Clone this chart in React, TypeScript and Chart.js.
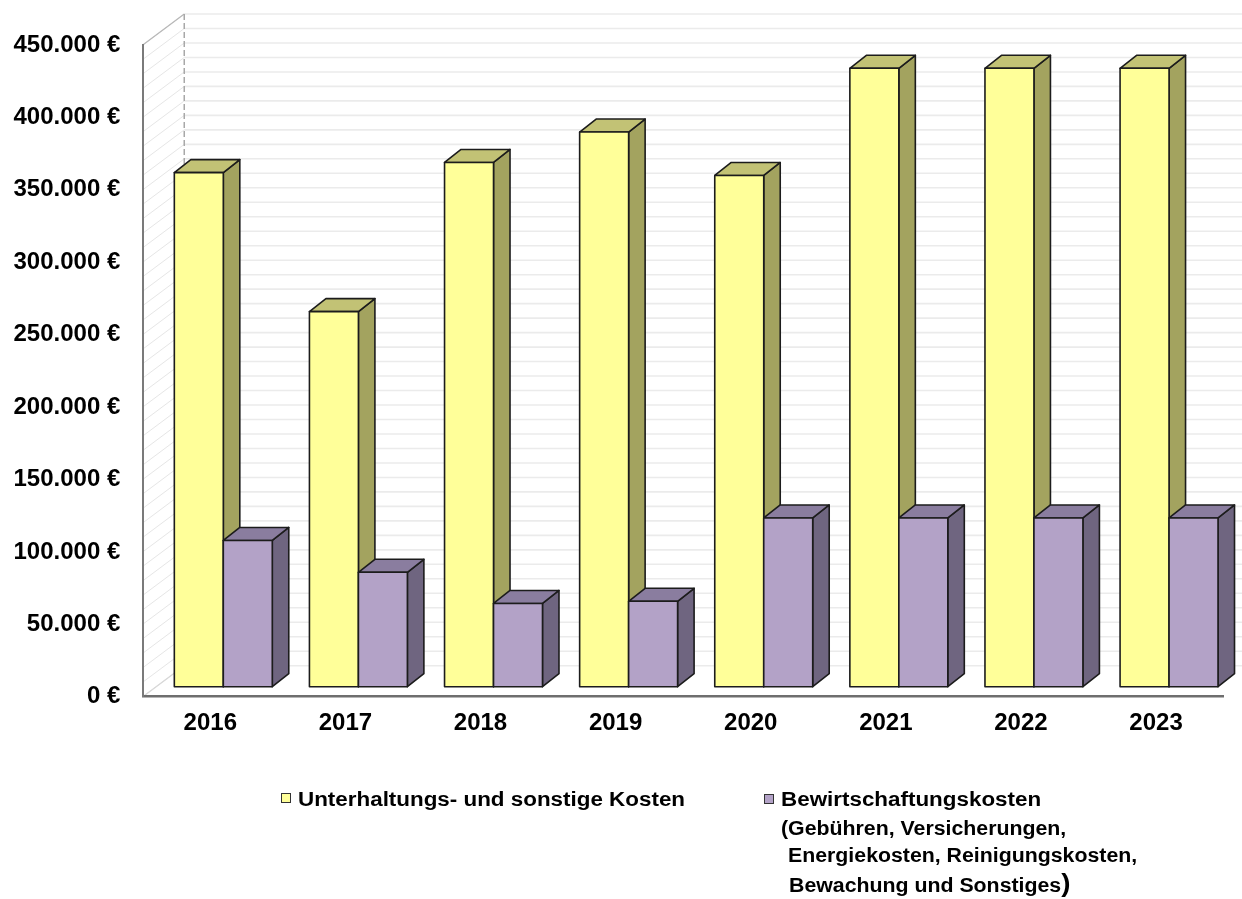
import React, { useEffect, useRef } from 'react';
import { Chart, registerables } from 'chart.js';

Chart.register(...registerables);

// ---- data ----
const years = ['2016', '2017', '2018', '2019', '2020', '2021', '2022', '2023'];
const unterhaltungsKosten = [355000, 259000, 362000, 383000, 353000, 427000, 427000, 427000];
const bewirtschaftungsKosten = [101000, 79000, 57500, 59000, 116500, 116500, 116500, 116500];
const seriesLabels = ['Unterhaltungs- und sonstige Kosten', 'Bewirtschaftungskosten'];
const bewirtschaftungDetail = ['(Gebühren, Versicherungen,', 'Energiekosten, Reinigungskosten,', 'Bewachung und Sonstiges'];
const yMax = 450000;
const yStep = 50000;
const gridStep = 10000;

// ---- style ----
const W = 1242;
const H = 899;
const WALL_DX = 41.5;
const WALL_DY = -31;
const BAR_DX = 13;
const BAR_DY = -10;
const DEPTH_DX = 16.5;
const DEPTH_DY = -13;
const FONT = "'Liberation Sans', Arial, sans-serif";

const faces = [
  { front: '#FFFF99', top: '#C2C275', side: '#A3A35F' },
  { front: '#B3A2C7', top: '#8A7D9F', side: '#6F6580' },
];

function fmtEuro(v: number): string {
  return String(Math.round(v)).replace(/\B(?=(\d{3})+(?!\d))/g, '.') + ' €';
}

const wallsPlugin = {
  id: 'walls3d',
  beforeDraw(chart: any) {
    const { ctx, chartArea: a, scales } = chart;
    const ys = scales.y;
    ctx.save();
    ctx.fillStyle = '#ffffff';
    ctx.fillRect(0, 0, chart.width, chart.height);
    for (let v = 0; v <= yMax; v += gridStep) {
      const py = ys.getPixelForValue(v);
      // back wall line
      ctx.strokeStyle = '#ebebeb';
      ctx.lineWidth = 1.6;
      ctx.beginPath();
      ctx.moveTo(a.left + WALL_DX, py + WALL_DY);
      ctx.lineTo(chart.width, py + WALL_DY);
      ctx.stroke();
      // side wall line
      ctx.strokeStyle = '#e6e6e6';
      ctx.lineWidth = 1;
      ctx.beginPath();
      ctx.moveTo(a.left, py);
      ctx.lineTo(a.left + WALL_DX, py + WALL_DY);
      ctx.stroke();
    }
    const pTop = ys.getPixelForValue(yMax);
    const pBot = ys.getPixelForValue(0);
    // top edge of side wall
    ctx.strokeStyle = '#b8b8b8';
    ctx.lineWidth = 1.2;
    ctx.beginPath();
    ctx.moveTo(a.left, pTop);
    ctx.lineTo(a.left + WALL_DX, pTop + WALL_DY);
    ctx.stroke();
    // floor left edge
    ctx.strokeStyle = '#d8d8d8';
    ctx.beginPath();
    ctx.moveTo(a.left, pBot);
    ctx.lineTo(a.left + WALL_DX, pBot + WALL_DY);
    ctx.stroke();
    // back corner dashed
    ctx.strokeStyle = '#a8a8a8';
    ctx.lineWidth = 1.5;
    ctx.setLineDash([6, 3]);
    ctx.beginPath();
    ctx.moveTo(a.left + WALL_DX, pTop + WALL_DY);
    ctx.lineTo(a.left + WALL_DX, pBot + WALL_DY);
    ctx.stroke();
    ctx.restore();
  },
};

const bars3dPlugin = {
  id: 'bars3d',
  beforeDatasetsDraw(chart: any) {
    const ctx = chart.ctx;
    const metas = chart.data.datasets.map((_: any, i: number) => chart.getDatasetMeta(i));
    ctx.save();
    ctx.lineJoin = 'round';
    for (let i = 0; i < years.length; i++) {
      for (let d = 0; d < metas.length; d++) {
        const el = metas[d].data[i];
        if (!el) continue;
        const { x, y, base, width } = el.getProps(['x', 'y', 'base', 'width'], true);
        const L = x - width / 2 + BAR_DX;
        const R = x + width / 2 + BAR_DX;
        const T = y + BAR_DY;
        const B = base + BAR_DY;
        const f = faces[d];
        ctx.strokeStyle = '#1c1c1c';
        ctx.lineWidth = 1.6;
        // side face
        ctx.beginPath();
        ctx.moveTo(R, T);
        ctx.lineTo(R + DEPTH_DX, T + DEPTH_DY);
        ctx.lineTo(R + DEPTH_DX, B + DEPTH_DY);
        ctx.lineTo(R, B);
        ctx.closePath();
        ctx.fillStyle = f.side;
        ctx.fill();
        ctx.stroke();
        // top face
        ctx.beginPath();
        ctx.moveTo(L, T);
        ctx.lineTo(L + DEPTH_DX, T + DEPTH_DY);
        ctx.lineTo(R + DEPTH_DX, T + DEPTH_DY);
        ctx.lineTo(R, T);
        ctx.closePath();
        ctx.fillStyle = f.top;
        ctx.fill();
        ctx.stroke();
        // front face
        ctx.beginPath();
        ctx.rect(L, T, R - L, B - T);
        ctx.fillStyle = f.front;
        ctx.fill();
        ctx.stroke();
      }
    }
    ctx.restore();
    return false;
  },
};

export default function App() {
  const canvasRef = useRef<HTMLCanvasElement | null>(null);

  useEffect(() => {
    document.body.style.margin = '0';
    document.body.style.overflow = 'hidden';
    const canvas = canvasRef.current;
    if (!canvas) return;
    const chart = new Chart(canvas, {
      type: 'bar',
      data: {
        labels: years,
        datasets: [
          {
            label: seriesLabels[0],
            data: unterhaltungsKosten,
            backgroundColor: faces[0].front,
            categoryPercentage: 0.725,
            barPercentage: 1,
          },
          {
            label: seriesLabels[1],
            data: bewirtschaftungsKosten,
            backgroundColor: faces[1].front,
            categoryPercentage: 0.725,
            barPercentage: 1,
          },
        ],
      },
      options: {
        responsive: false,
        animation: false,
        devicePixelRatio: 1,
        layout: { padding: { top: 45, right: 18.4, bottom: 142.3, left: 0 } },
        plugins: {
          legend: { display: false },
          tooltip: { enabled: false },
          title: { display: false },
        },
        scales: {
          x: {
            grid: { display: false, drawTicks: false },
            border: { display: true, color: '#6e6e6e', width: 2.5 },
            ticks: {
              color: '#000',
              font: { family: FONT, size: 24, weight: 'bold' },
              padding: 12,
              maxRotation: 0,
              autoSkip: false,
            },
            afterFit: (scale: any) => {
              scale.height = 60;
            },
          },
          y: {
            min: 0,
            max: yMax,
            grid: { display: false, drawTicks: false },
            border: { display: true, color: '#7a7a7a', width: 2 },
            ticks: {
              stepSize: yStep,
              color: '#000',
              font: { family: FONT, size: 24, weight: 'bold' },
              padding: 22.5,
              callback: (v: any) => fmtEuro(Number(v)),
            },
            afterFit: (scale: any) => {
              scale.width = 142.75;
            },
          },
        },
      },
      plugins: [wallsPlugin, bars3dPlugin],
    });
    return () => {
      chart.destroy();
    };
  }, []);

  const textStyle: React.CSSProperties = {
    position: 'absolute',
    fontFamily: FONT,
    fontWeight: 'bold',
    fontSize: '20px',
    lineHeight: '20px',
    color: '#000',
    whiteSpace: 'nowrap',
    transform: 'scaleX(1.12)',
    transformOrigin: 'left center',
  };
  const detailStyle: React.CSSProperties = { ...textStyle, transform: 'scaleX(1.065)' };
  const sq = (left: number, top: number, color: string): React.CSSProperties => ({
    position: 'absolute',
    left,
    top,
    width: 8,
    height: 8,
    background: color,
    border: '1px solid #333',
  });

  return (
    <div style={{ position: 'relative', width: W, height: H, background: '#fff', overflow: 'hidden' }}>
      <canvas ref={canvasRef} width={W} height={H} style={{ display: 'block' }} />
      <div style={sq(281, 793, faces[0].front)} />
      <div style={{ ...textStyle, left: 298, top: 789 }}>{seriesLabels[0]}</div>
      <div style={sq(764, 794, faces[1].front)} />
      <div style={{ ...textStyle, left: 781, top: 789 }}>{seriesLabels[1]}</div>
      <div style={{ ...detailStyle, left: 781, top: 818 }}>{bewirtschaftungDetail[0]}</div>
      <div style={{ ...detailStyle, left: 788, top: 845 }}>{bewirtschaftungDetail[1]}</div>
      <div style={{ ...detailStyle, left: 789, top: 873 }}>
        {bewirtschaftungDetail[2]}
        <span style={{ fontSize: '26px' }}>)</span>
      </div>
    </div>
  );
}
